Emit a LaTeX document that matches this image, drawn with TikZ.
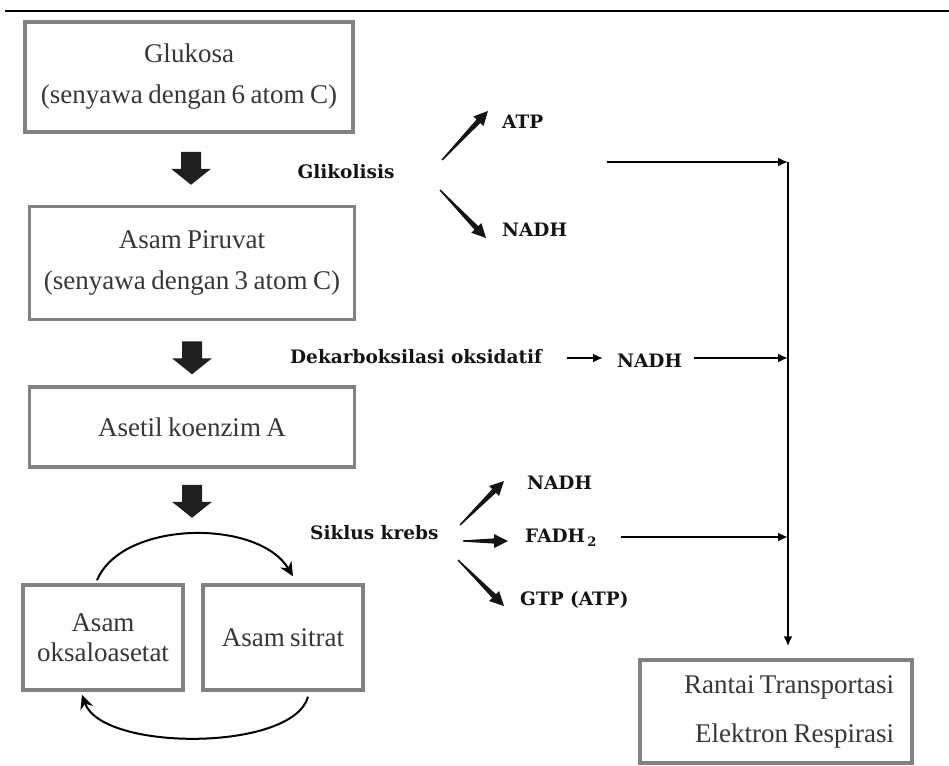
\documentclass[tikz,border=0pt]{standalone}
\usepackage{fontspec}
\setmainfont[WordSpace=0.8]{Liberation Serif}
\newfontfamily\lblfont{DejaVu Serif}
\usetikzlibrary{arrows.meta,calc}
\definecolor{boxgray}{RGB}{130,130,130}
\definecolor{boxtext}{RGB}{55,55,55}
\definecolor{lbltext}{RGB}{20,20,20}
\newcommand{\blockarr}[1]{\fill[black!88] ($(#1)+(-10,0)$) -- ($(#1)+(10,0)$) -- ($(#1)+(10,17)$) -- ($(#1)+(20,17)$) -- ($(#1)+(0,33)$) -- ($(#1)+(-20,17)$) -- ($(#1)+(-10,17)$) -- cycle;}
\newcommand{\taparrow}[2]{%
 \path ($(#2)!14pt!(#1)$) coordinate (tH);
 \fill[lbltext] ($(#1)!0.7pt!90:(#2)$) -- ($(tH)!2.6pt!-90:(#1)$) -- ($(tH)!7pt!-90:(#1)$) -- (#2) -- ($(tH)!7pt!90:(#1)$) -- ($(tH)!2.6pt!90:(#1)$) -- ($(#1)!0.7pt!-90:(#2)$) -- cycle;}
\begin{document}
\begin{tikzpicture}[x=1pt,y=-1pt,
 stepbox/.style={draw=boxgray, line width=3.5pt, fill=white, text=boxtext, align=center, font=\fontsize{27}{41}\selectfont, inner sep=0pt},
 lbl/.style={text=lbltext, font=\lblfont\bfseries\fontsize{18.5}{22}\selectfont, inner sep=0pt, anchor=west},
 thinarrow/.style={line width=2.2pt, -{Latex[length=10pt,width=9pt]}},
 cyc/.style={line width=2pt, -{Stealth[length=14pt,width=13pt]}}
]
\useasboundingbox (0,0) rectangle (949,765);
\draw[line width=2pt] (5,11) -- (949,11);

% boxes
\node[stepbox, minimum width=328pt, minimum height=110pt] (glu) at (189,77) {Glukosa\\(senyawa dengan 6 atom C)};
\node[stepbox, minimum width=325pt, minimum height=113pt] (pir) at (192,263) {Asam Piruvat\\(senyawa dengan 3 atom C)};
\node[stepbox, minimum width=325pt, minimum height=80pt] (ase) at (192,427) {Asetil koenzim A};
\node[stepbox, minimum width=160pt, minimum height=105pt, font=\fontsize{27}{30}\selectfont] (oks) at (103,637.5) {Asam\\oksaloasetat};
\node[stepbox, minimum width=160pt, minimum height=105pt] (sit) at (283,637.5) {Asam sitrat};
\node[stepbox, minimum width=272pt, minimum height=103pt, font=\fontsize{27}{49}\selectfont, text width=236pt, align=flush right, inner xsep=18pt] (ran) at (776,711.5) {Rantai Transportasi\\Elektron Respirasi};

% block arrows
\coordinate (ba1) at ($(glu.south)+(2,18)$);
\coordinate (ba2) at ($(pir.south)+(0,20)$);
\coordinate (ba3) at ($(ase.south)+(0,16)$);
\blockarr{ba1}
\blockarr{ba2}
\blockarr{ba3}

% labels
\node[lbl, anchor=center] (gli) at (346,172) {Glikolisis};
\node[lbl] (atp1) at (502,122) {ATP};
\node[lbl] (nadh1) at (502,230) {NADH};
\node[lbl] (dek) at (290,357) {Dekarboksilasi oksidatif};
\node[lbl] (nadh2) at (617,361) {NADH};
\node[lbl] (kre) at (310,533) {Siklus krebs};
\node[lbl] (nadh3) at (527,483) {NADH};
\node[lbl] (fadh) at (525,538) {FADH\raisebox{-4pt}{\fontsize{13}{13}\selectfont\,2}};
\node[lbl] (gtp) at (520,600) {GTP (ATP)};

% tapered arrows
\coordinate (ga1) at (442,160); \coordinate (ga2) at (488,111);
\coordinate (gn1) at (440,190); \coordinate (gn2) at (486,238);
\coordinate (kn1) at (460,525); \coordinate (kn2) at (504,481);
\coordinate (kf1) at (463,541); \coordinate (kf2) at (508,541);
\coordinate (kg1) at (458,560); \coordinate (kg2) at (504,606);
\taparrow{ga1}{ga2}
\taparrow{gn1}{gn2}
\taparrow{kn1}{kn2}
\taparrow{kf1}{kf2}
\taparrow{kg1}{kg2}

% dekarboksilasi arrow
\coordinate (da1) at (567,358); \coordinate (da2) at (603,358);
\draw[thinarrow] (da1) -- (da2);

% collector line
\coordinate (v1) at (788,162);
\coordinate (v2) at (788,358);
\coordinate (v3) at (788,537);
\coordinate (h1) at (607,162);
\draw[thinarrow] (h1) -- (v1);
\draw[thinarrow] ($(v2 -| nadh2.east)+(12,0)$) -- (v2);
\draw[thinarrow] ($(v3 -| fadh.east)+(24,0)$) -- (v3);
\draw[thinarrow, shorten >=12pt] (v1) -- (v1 |- ran.north);

% cycle arcs
\draw[cyc] ([xshift=-6pt,yshift=3pt]oks.north) .. controls +(25,-60) and +(-35,-58) .. ([xshift=10pt,yshift=7pt]sit.north);
\draw[cyc] ([xshift=25pt,yshift=-5pt]sit.south) .. controls +(-15,55) and +(20,57) .. ([xshift=-21pt,yshift=-3pt]oks.south);
\end{tikzpicture}
\end{document}
